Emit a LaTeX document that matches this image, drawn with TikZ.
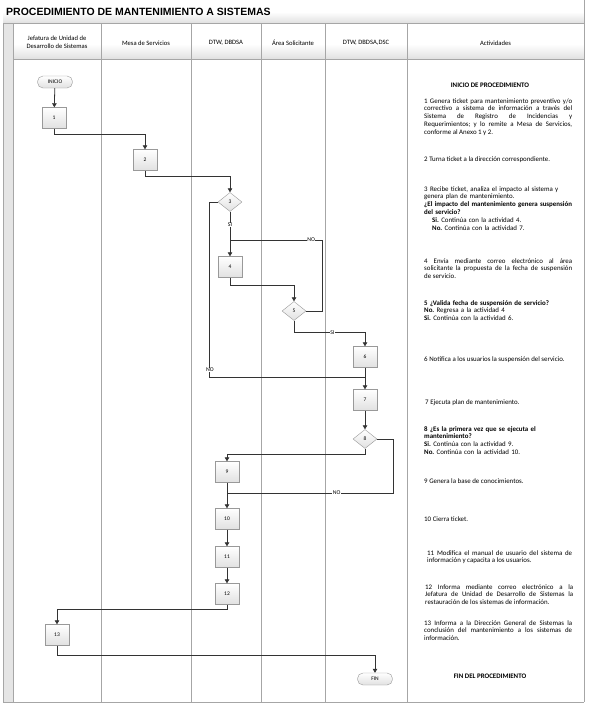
\documentclass[tikz,border=0pt]{standalone}
\usepackage{fontspec}
\setmainfont{Carlito}
\newfontfamily\titlefont{Liberation Sans}
\usetikzlibrary{shapes.geometric,arrows.meta}
\frenchspacing
\begin{document}
\begin{tikzpicture}[x=1pt,y=-1pt,
  box/.style={draw=black!40, top color=white, bottom color=black!12, minimum width=24pt, minimum height=21pt, inner sep=0pt, font=\fontsize{5.5}{6.5}\selectfont},
  dec/.style={diamond, draw=black!40, top color=white, bottom color=black!12, minimum width=24pt, minimum height=19pt, inner sep=0pt, font=\fontsize{5.5}{6.5}\selectfont},
  term/.style={draw=black!40, rounded corners=5.5pt, top color=white, bottom color=black!12, minimum width=35pt, minimum height=12pt, inner sep=0pt, font=\fontsize{5.5}{6.5}\selectfont},
  conn/.style={draw=black!80, line width=0.8pt},
  arr/.style={conn, -{Triangle[length=4pt,width=4.5pt]}},
  lbl/.style={fill=white, inner sep=0.5pt, font=\fontsize{5.8}{6.5}\selectfont},
  act/.style={anchor=base west, inner sep=0pt, text width=148pt, align=justify, font=\fontsize{6.9}{7.8}\selectfont},
  actc/.style={anchor=base, inner sep=0pt, font=\fontsize{6.9}{7.8}\selectfont\bfseries},
  hdr/.style={font=\fontsize{6.6}{7.8}\selectfont, align=center, inner sep=0pt},
  grid/.style={draw=black!35, line width=0.8pt}
]
\fill[white] (0,0) rectangle (590,707);
\useasboundingbox (0,0) rectangle (590,707);
% title bar and header shading
\shade[top color=white, bottom color=black!12] (3,12) rectangle (584,23);
\shade[top color=white, bottom color=black!12] (13,44) rectangle (584,59);
\fill[black!10] (3,23) rectangle (13,702);
% frame and lanes
\draw[grid] (584,0) -- (584,702);
\draw[grid] (3,23) -- (584,23);
\draw[grid] (3,23) -- (3,702) -- (584,702);
\draw[grid] (13,59) -- (584,59);
\foreach \xx in {13,101,191,261,325,407} \draw[grid] (\xx,23) -- (\xx,702);
% title
\node[anchor=base west, inner sep=0pt, font=\titlefont\bfseries\fontsize{10.5}{12}\selectfont] (title) at (6,15.3) {PROCEDIMIENTO DE MANTENIMIENTO A SISTEMAS};
% headers
\node[hdr] (h1) at (57,42) {Jefatura de Unidad de\\Desarrollo de Sistemas};
\node[hdr] (h2) at (146,43) {Mesa de Servicios};
\node[hdr] (h3) at (226,43) {DTW, DBDSA};
\node[hdr] (h4) at (293,43) {Área Solicitante};
\node[hdr] (h5) at (366,43) {DTW, DBDSA,DSC};
\node[hdr] (h6) at (495.5,43) {Actividades};
% flow nodes
\node[term] (inicio) at (55,82) {INICIO};
\node[box] (b1) at (54,118) {1};
\node[box] (b2) at (145,160) {2};
\node[dec] (d3) at (230,202) {3};
\node[box] (b4) at (230,267) {4};
\node[dec] (d5) at (294,311) {5};
\node[box] (b6) at (365,357) {6};
\node[box] (b7) at (365,400) {7};
\node[dec] (d8) at (365,439) {8};
\node[box] (b9) at (227,472) {9};
\node[box] (b10) at (227,519) {10};
\node[box] (b11) at (227,557) {11};
\node[box] (b12) at (227,594) {12};
\node[box] (b13) at (57,635) {13};
\node[term] (fin) at (375,679) {FIN};
\coordinate (j1) at (230,240);
\coordinate (j2) at (365,377);
\coordinate (j3) at (227,493);
% connectors
\draw[arr] (inicio) -- (b1);
\draw[arr] (b1.south) -- ++(0,6) -| (b2.north);
\draw[arr] (b2.south) -- ++(0,6) -| (d3.north);
\draw[arr] (d3.south) -- node[lbl,pos=0.3]{SI} (b4.north);
\draw[conn] (d5.east) -- ++(16,0) |- node[lbl,pos=0.56]{NO} (j1);
\draw[arr] (b4.south) -- ++(0,8) -| (d5.north);
\draw[arr] (d5.south) -- ++(0,12) -| node[lbl,pos=0.27]{SI} (b6.north);
\draw[conn] (d3.west) -- ++(-8,0) |- node[lbl,pos=0.48]{NO} (j2);
\draw[arr] (b6.south) -- (b7.north);
\draw[arr] (b7.south) -- (d8.north);
\draw[arr] (d8.south) -- ++(0,6) -| (b9.north);
\draw[conn] (d8.east) -- ++(16,0) |- node[lbl,pos=0.67]{NO} (j3);
\draw[arr] (b9.south) -- (b10.north);
\draw[arr] (b10.south) -- (b11.north);
\draw[arr] (b11.south) -- (b12.north);
\draw[arr] (b12.south) -- ++(0,5) -| (b13.north);
\draw[arr] (b13.south) -- ++(0,10) -| (fin.north);
% activities
\node[actc] (t0) at (490,87) {INICIO DE PROCEDIMIENTO};
\node[act] (t1) at (424,103) {1 Genera ticket para mantenimiento preventivo y/o\linebreak correctivo a sistema de información a través del\linebreak Sistema de Registro de Incidencias y\linebreak Requerimientos; y lo remite a Mesa de Servicios,\linebreak conforme al Anexo 1 y 2.};
\node[act] (t2) at (424,161) {2 Turna ticket a la dirección correspondiente.};
\node[act, align=left] (t3) at (424,191) {3 Recibe ticket, analiza el impacto al sistema y\\genera plan de mantenimiento.\\\textbf{¿El impacto del mantenimiento genera suspensión}\\\textbf{del servicio?}\\\hspace*{8pt}\textbf{Si.} Continúa con la actividad 4.\\\hspace*{8pt}\textbf{No.} Continúa con la actividad 7.};
\node[act] (t4) at (424,263) {4 Envía mediante correo electrónico al área\linebreak solicitante la propuesta de la fecha de suspensión\linebreak de servicio.};
\node[act, align=left] (t5) at (424,305) {\textbf{5 ¿Valida fecha de suspensión de servicio?}\\\textbf{No.} Regresa a la actividad 4\\\textbf{Si.} Continúa con la actividad 6.};
\node[act] (t6) at (424,361) {6 Notifica a los usuarios la suspensión del servicio.};
\node[act] (t7) at (425,404) {7 Ejecuta plan de mantenimiento.};
\node[act, align=left] (t8) at (424,431) {\textbf{8 ¿Es la primera vez que se ejecuta el}\\\textbf{mantenimiento?}\\\textbf{Si.} Continúa con la actividad 9.\\\textbf{No.} Continúa con la actividad 10.};
\node[act] (t9) at (424,483) {9 Genera la base de conocimientos.};
\node[act] (t10) at (424,521) {10 Cierra ticket.};
\node[act, text width=145pt] (t11) at (427,555) {11 Modifica el manual de usuario del sistema de\linebreak información y capacita a los usuarios.};
\node[act] (t12) at (425,589) {12 Informa mediante correo electrónico a la\linebreak Jefatura de Unidad de Desarrollo de Sistemas la\linebreak restauración de los sistemas de información.};
\node[act] (t13) at (424,625) {13 Informa a la Dirección General de Sistemas la\linebreak conclusión del mantenimiento a los sistemas de\linebreak información.};
\node[actc] (tfin) at (490,678) {FIN DEL PROCEDIMIENTO};
\end{tikzpicture}
\end{document}
